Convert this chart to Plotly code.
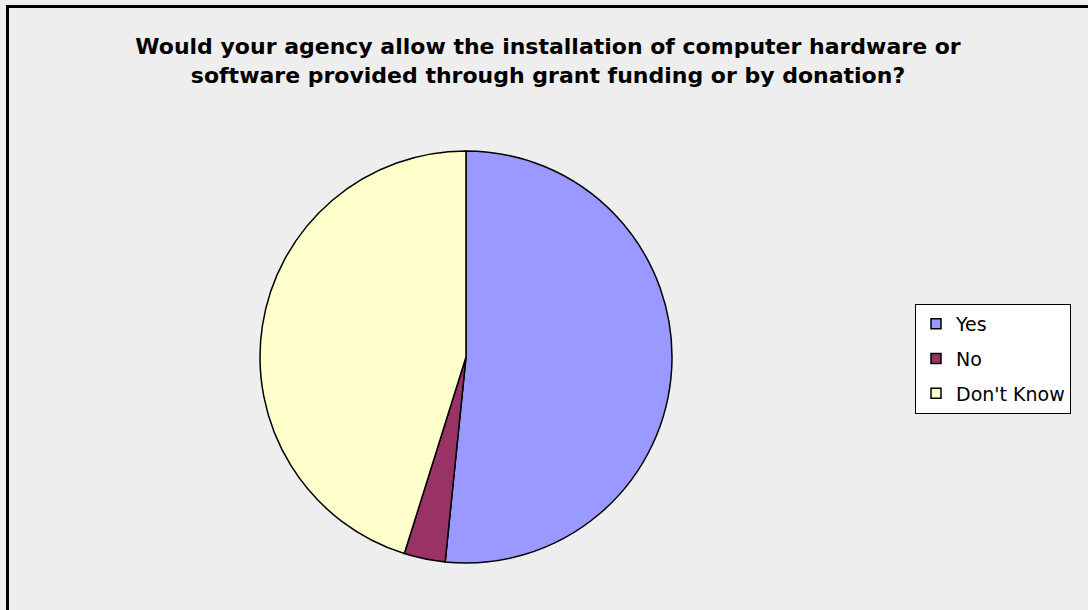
import plotly.graph_objects as go

labels = ["Yes", "No", "Don't Know"]
values = [16, 1, 14]
colors = ["#9999FF", "#993366", "#FFFFCC"]
title_text = ("Would your agency allow the installation of computer hardware or<br>"
              "software provided through grant funding or by donation?")

W, H = 1088, 610
cx, cy, r = 466, 357, 206

fig = go.Figure()
fig.add_trace(go.Pie(
    labels=labels, values=values, sort=False, direction="clockwise", rotation=0,
    marker=dict(colors=colors, line=dict(color="black", width=1.5)),
    textinfo="none", hoverinfo="label+value+percent", showlegend=False,
    domain=dict(x=[(cx - r) / W, (cx + r) / W], y=[(H - cy - r) / H, (H - cy + r) / H]),
))
for i, (lab, col) in enumerate(zip(labels, colors)):
    fig.add_trace(go.Scatter(
        x=[None], y=[None], mode="markers", name=lab, legendgroup=f"g{i}",
        marker=dict(symbol="square", size=10, color=col, line=dict(color="black", width=1.5)),
    ))

fig.update_layout(
    width=W, height=H, margin=dict(l=0, r=0, t=0, b=0),
    paper_bgcolor="#EEEEEE", plot_bgcolor="#EEEEEE",
    xaxis=dict(visible=False), yaxis=dict(visible=False),
    title=dict(text=title_text, x=548 / W, xanchor="center", y=(H - 54) / H, yanchor="middle",
               font=dict(family="DejaVu Sans", size=22, color="black", weight="bold")),
    legend=dict(x=915 / W, xanchor="left", y=(H - 304) / H, yanchor="top",
                bgcolor="white", bordercolor="black", borderwidth=1,
                font=dict(family="DejaVu Sans", size=19, color="black"),
                traceorder="grouped", tracegroupgap=7, itemwidth=30),
    shapes=[dict(type="rect", xref="paper", yref="paper",
                 x0=7.5 / W, x1=1.02, y0=-0.02, y1=(H - 6.5) / H,
                 line=dict(color="black", width=3), fillcolor="rgba(0,0,0,0)", layer="below")],
)
fig.write_html("out.html", config={"displayModeBar": False},
               post_script="document.body.style.margin='0';document.body.style.background='#EEEEEE';")
